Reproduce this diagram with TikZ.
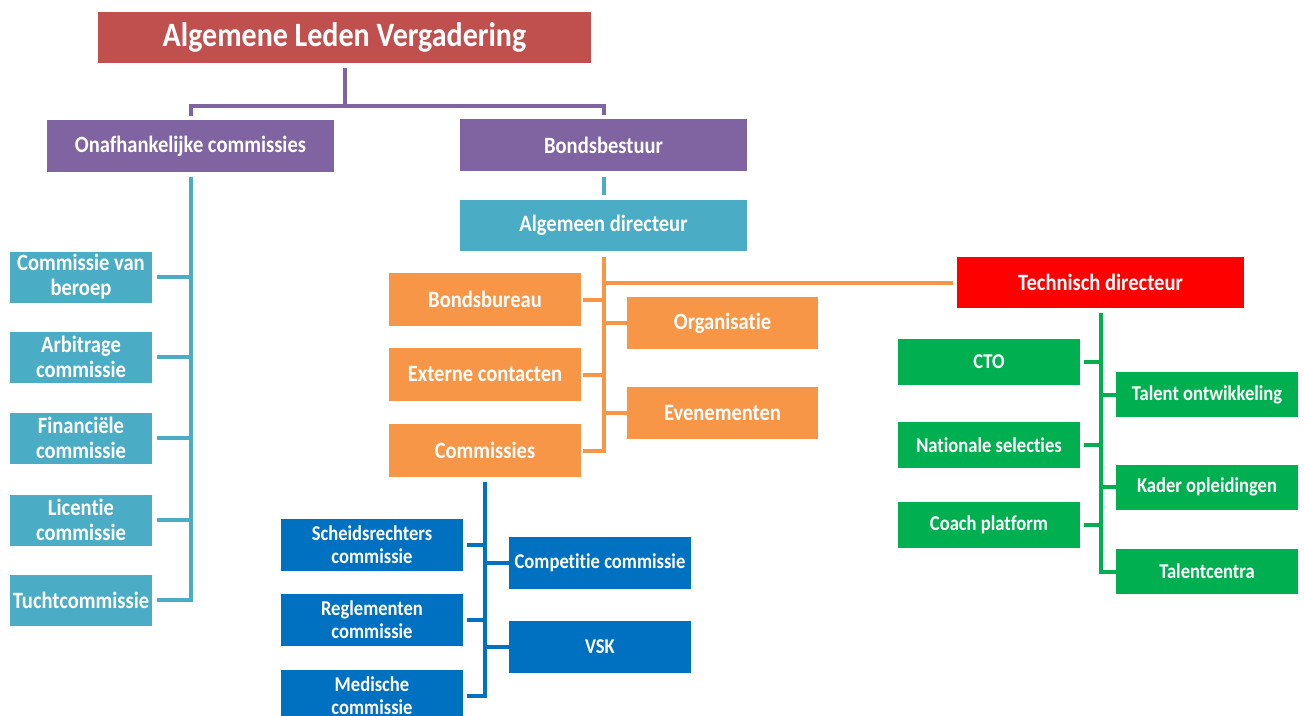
\documentclass[tikz,border=0pt]{standalone}
\usepackage{fontspec}
\newfontfamily\orgfont{Carlito}[FakeStretch=0.88,Ligatures=NoCommon]
\definecolor{alvred}{HTML}{C0504D}
\definecolor{purp}{HTML}{8064A2}
\definecolor{teal1}{HTML}{4BACC6}
\definecolor{orng}{HTML}{F79646}
\definecolor{techred}{HTML}{FF0000}
\definecolor{grn}{HTML}{00B050}
\definecolor{blu}{HTML}{0070C0}
\begin{document}
\begin{tikzpicture}[x=0.02cm,y=-0.02cm,
    boxsize/.style 2 args={minimum width=#1*0.02cm,minimum height=#2*0.02cm},
    box/.style={rectangle,inner sep=0pt,text=white,align=center,
      font=\orgfont\bfseries\fontsize{13.3}{14.2}\selectfont},
    smallbox/.style={box,font=\orgfont\bfseries\fontsize{12}{13}\selectfont},
    bus/.style={line width=0.08cm}]
  \useasboundingbox(0,0)rectangle(1304,716);
  \clip(0,0)rectangle(1304,716);
  % top
  \node[box,fill=alvred,boxsize={493}{51},font=\orgfont\bfseries\fontsize{19.4}{22}\selectfont]
    (alv) at (344.5,37.5) {Algemene Leden Vergadering};
  \node[box,fill=purp,boxsize={287}{52}] (onaf) at (190.5,146) {Onafhankelijke commissies};
  \node[box,fill=purp,boxsize={287}{52}] (bonds) at (603.5,145) {Bondsbestuur};
  \node[box,fill=teal1,boxsize={287}{51}] (alg) at (603.5,225.5) {Algemeen directeur};
  \node[box,fill=techred,boxsize={287}{51}] (tech) at (1100.5,282.5) {Technisch directeur};
  \coordinate (split) at (344.5,106);
  \draw[bus,purp,shorten <=0.1cm,shorten >=0.08cm](alv.south)--(split)-|(onaf.north);
  \draw[bus,purp,shorten >=0.08cm](split)-|(bonds.north);
  \draw[bus,teal1,shorten <=0.12cm,shorten >=0.1cm](bonds.south)--(alg.north);
  % onafhankelijke commissies
  \foreach \id/\y/\t in {beroep/277/{Commissie van\\beroep},arbitrage/357/{Arbitrage\\commissie},
      financieel/438/{Financiële\\commissie},licentie/520/{Licentie\\commissie},tucht/600/{Tuchtcommissie}}{%
    \node[box,fill=teal1,boxsize={142}{51}] (\id) at (81,\y) {\t};
    \draw[bus,teal1,shorten <=0.1cm](\id.east)--(\id.east-|onaf.south);
  }
  \draw[bus,teal1,shorten <=0.1cm,shorten >=0.1cm](onaf.south)--(onaf.south|-tucht.east)--(tucht.east);
  % bondsbureau
  \foreach \id/\y/\t in {bureau/299.5/Bondsbureau,extern/374.5/Externe contacten,comm/450.5/Commissies}{%
    \node[box,fill=orng,boxsize={192}{53}] (\id) at (485,\y) {\t};
    \draw[bus,orng,shorten <=0.04cm](\id.east)--(\id.east-|alg.south);
  }
  \foreach \id/\y/\t in {organisatie/323/Organisatie,evenement/413/Evenementen}{%
    \node[box,fill=orng,boxsize={191}{52}] (\id) at (722.5,\y) {\t};
    \draw[bus,orng](\id.west-|alg.south)--(\id.west);
  }
  \draw[bus,orng,shorten <=0.12cm,shorten >=0.04cm](alg.south)--(alg.south|-comm.east)--(comm.east);
  \draw[bus,orng,shorten >=0.08cm](alg.south|-tech.west)--(tech.west);
  % technisch directeur
  \foreach \id/\y/\t in {cto/362/CTO,selectie/445/Nationale selecties,coach/525/Coach platform}{%
    \node[smallbox,fill=grn,boxsize={182}{46}] (\id) at (989,\y) {\t};
    \draw[bus,grn,shorten <=0.08cm](\id.east)--(\id.east-|tech.south);
  }
  \foreach \id/\y/\t in {talent/394.5/Talent ontwikkeling,kader/487/Kader opleidingen,centra/571.5/Talentcentra}{%
    \node[smallbox,fill=grn,boxsize={182}{45}] (\id) at (1207,\y) {\t};
    \draw[bus,grn](\id.west-|tech.south)--(\id.west);
  }
  \draw[bus,grn,shorten <=0.1cm](tech.south)--(tech.south|-centra.west)--(centra.west);
  % commissies
  \foreach \id/\y/\t in {scheids/545/{Scheidsrechters\\commissie},reglement/620/{Reglementen\\commissie},
      medisch/696/{Medische\\commissie}}{%
    \node[smallbox,fill=blu,boxsize={182}{52}] (\id) at (372,\y) {\t};
    \draw[bus,blu,shorten <=0.08cm](\id.east)--(\id.east-|comm.south);
  }
  \foreach \id/\y/\t in {competitie/563/Competitie commissie,vsk/647/VSK}{%
    \node[smallbox,fill=blu,boxsize={182}{52}] (\id) at (600,\y) {\t};
    \draw[bus,blu](\id.west-|comm.south)--(\id.west);
  }
  \draw[bus,blu,shorten <=0.1cm,shorten >=0.08cm](comm.south)--(comm.south|-medisch.east)--(medisch.east);
\end{tikzpicture}
\end{document}
